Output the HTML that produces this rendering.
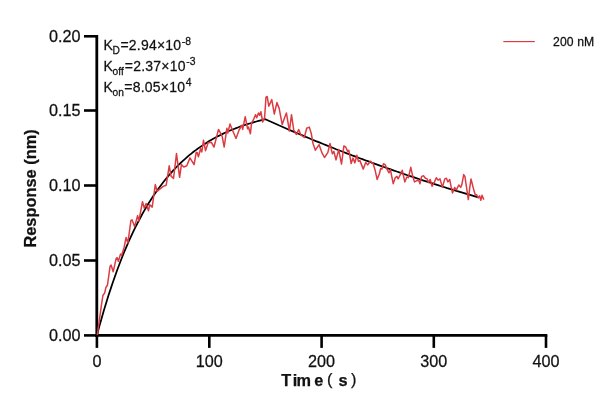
<!DOCTYPE html>
<html><head><meta charset="utf-8"><style>
html,body{margin:0;padding:0;background:#fff;}
svg{display:block;will-change:transform;}
text{font-family:"Liberation Sans",sans-serif;fill:#111;stroke:#111;stroke-width:0.25px}
</style></head><body>
<svg width="616" height="412" viewBox="0 0 616 412">
<rect width="616" height="412" fill="#fff"/>
<g stroke="#000" stroke-width="2.8" fill="none">
<line x1="96.8" y1="35" x2="96.8" y2="336.8"/>
<line x1="95" y1="335.4" x2="547.3" y2="335.4"/>
</g>
<g stroke="#000" stroke-width="2.6" fill="none">
<line x1="84" y1="36.3" x2="97" y2="36.3"/>
<line x1="84" y1="110.5" x2="97" y2="110.5"/>
<line x1="84" y1="185.5" x2="97" y2="185.5"/>
<line x1="84" y1="260.5" x2="97" y2="260.5"/>
<line x1="84" y1="335.4" x2="97" y2="335.4"/>
<line x1="96.9" y1="335" x2="96.9" y2="347.9"/>
<line x1="209.3" y1="335" x2="209.3" y2="347.9"/>
<line x1="321.6" y1="335" x2="321.6" y2="347.9"/>
<line x1="433.8" y1="335" x2="433.8" y2="347.9"/>
<line x1="546.0" y1="335" x2="546.0" y2="347.9"/>
</g>
<polyline points="97.0,335.2 99.2,326.8 101.5,318.8 103.7,311.0 106.0,303.5 108.2,296.3 110.5,289.4 112.7,282.7 115.0,276.2 117.2,270.0 119.5,264.0 121.7,258.3 123.9,252.7 126.2,247.3 128.4,242.2 130.7,237.2 132.9,232.4 135.2,227.7 137.4,223.3 139.7,219.0 141.9,214.8 144.1,210.9 146.4,207.0 148.6,203.3 150.9,199.7 153.1,196.3 155.4,193.0 157.6,189.8 159.9,186.7 162.1,183.7 164.4,180.8 166.6,178.1 168.8,175.4 171.1,172.9 173.3,170.4 175.6,168.0 177.8,165.7 180.1,163.5 182.3,161.4 184.6,159.3 186.8,157.3 189.0,155.4 191.3,153.6 193.5,151.8 195.8,150.1 198.0,148.5 200.3,146.9 202.5,145.4 204.8,143.9 207.0,142.5 209.2,141.1 211.5,139.8 213.7,138.5 216.0,137.3 218.2,136.1 220.5,135.0 222.7,133.9 225.0,132.8 227.2,131.8 229.5,130.8 231.7,129.9 233.9,129.0 236.2,128.1 238.4,127.3 240.7,126.4 242.9,125.6 245.2,124.9 247.4,124.2 249.7,123.5 251.9,122.8 254.2,122.1 256.4,121.5 258.6,120.9 260.9,120.3 263.1,119.7 265.4,119.2 265.4,119.2 268.7,120.7 272.1,122.2 275.5,123.8 278.8,125.3 282.2,126.7 285.6,128.2 288.9,129.7 292.3,131.1 295.7,132.6 299.1,134.0 302.4,135.4 305.8,136.9 309.2,138.3 312.5,139.7 315.9,141.1 319.3,142.4 322.6,143.8 326.0,145.1 329.4,146.5 332.7,147.8 336.1,149.2 339.5,150.5 342.8,151.8 346.2,153.1 349.6,154.4 352.9,155.7 356.3,156.9 359.7,158.2 363.0,159.4 366.4,160.7 369.8,161.9 373.1,163.2 376.5,164.4 379.9,165.6 383.2,166.8 386.6,168.0 390.0,169.2 393.3,170.3 396.7,171.5 400.1,172.7 403.4,173.8 406.8,175.0 410.2,176.1 413.5,177.2 416.9,178.3 420.3,179.5 423.6,180.6 427.0,181.7 430.4,182.7 433.8,183.8 437.1,184.9 440.5,186.0 443.9,187.0 447.2,188.1 450.6,189.1 454.0,190.1 457.3,191.2 460.7,192.2 464.1,193.2 467.4,194.2 470.8,195.2 474.2,196.2 477.5,197.2 478.7,197.5" fill="none" stroke="#000" stroke-width="1.75" stroke-linejoin="round"/>
<polyline points="97.3,335.0 101.5,304.6 102.9,295.5 104.7,292.9 105.9,287.5 107.5,285.0 110.1,266.2 111.1,265.0 113.2,271.7 116.2,258.3 117.2,257.7 118.4,261.4 120.5,254.1 121.7,255.3 124.1,247.4 126.1,237.5 127.9,242.9 130.9,220.5 132.1,219.9 134.6,226.6 137.6,215.6 138.8,221.1 142.5,201.7 144.3,208.3 146.1,203.5 148.5,210.8 149.7,204.7 152.2,207.1 153.6,197.0 155.3,184.6 157.1,191.3 160.1,188.8 163.2,186.4 166.2,185.2 169.2,165.8 171.1,176.1 173.5,178.5 176.5,153.6 179.6,177.3 181.4,164.6 183.8,167.0 186.8,165.8 189.9,157.9 194.1,164.6 196.2,152.5 197.2,152.5 198.4,156.7 200.6,148.8 201.8,151.9 203.5,140.3 205.5,150.7 208.1,142.8 211.2,142.2 214.0,147.0 218.5,129.4 222.1,136.1 224.2,147.0 226.9,128.2 227.8,133.1 230.0,124.0 232.4,130.0 236.0,138.5 239.1,130.0 241.9,125.2 242.7,129.4 245.2,116.7 247.6,128.8 248.4,127.0 250.4,133.7 251.6,122.6 253.0,120.8 255.5,114.7 256.7,117.8 258.5,112.9 259.7,115.3 260.9,111.7 262.7,122.0 264.6,117.8 266.0,97.1 267.2,96.5 268.8,106.2 271.8,99.6 274.3,114.1 276.9,102.6 279.1,108.1 282.2,124.4 284.6,117.8 286.4,112.9 289.4,131.1 291.5,114.7 293.7,129.9 296.3,134.5 298.7,129.6 300.9,135.0 304.3,137.5 306.7,128.3 309.3,127.1 311.2,133.2 313.0,143.5 315.4,150.2 319.1,144.7 322.1,153.2 324.5,157.5 327.8,152.6 330.0,143.5 332.4,153.8 333.9,151.4 336.0,159.9 338.7,149.6 341.5,164.1 343.9,145.9 345.8,147.2 347.6,151.4 348.8,150.2 351.2,163.5 353.0,158.1 354.9,162.9 356.8,155.2 358.4,161.2 359.9,160.6 363.3,169.1 365.7,162.4 367.7,164.9 370.5,161.2 373.2,163.7 375.0,169.7 377.1,179.4 379.3,174.0 380.7,168.5 381.9,169.1 383.5,163.7 385.3,164.9 387.2,169.7 389.0,172.8 390.4,169.7 393.2,183.7 395.3,177.6 396.9,176.4 398.1,178.8 400.1,175.2 402.3,170.3 404.8,181.9 406.9,177.0 408.4,177.6 410.8,167.3 412.6,175.8 414.5,181.9 416.8,180.7 418.7,180.1 419.9,183.8 421.7,176.4 423.5,175.8 425.4,178.3 427.2,178.9 428.4,182.5 430.2,179.5 432.1,186.2 434.5,181.9 436.3,177.7 438.1,180.1 440.0,178.9 442.4,187.4 444.8,178.9 446.4,178.3 447.9,181.9 449.7,179.5 450.9,185.6 452.5,192.9 454.6,187.4 456.4,189.8 458.8,185.0 460.7,187.4 461.9,184.4 463.7,174.6 464.9,176.4 466.8,189.2 468.3,199.6 469.8,187.4 471.0,178.9 472.2,183.8 474.1,191.1 475.3,194.7 476.5,194.7 478.3,197.8 479.6,195.9 480.8,200.2 482.0,195.3 483.8,199.6" fill="none" stroke="#dd3b41" stroke-width="1.5" stroke-linejoin="round"/>
<text transform="translate(80.6,41.5) scale(1.0,1.05)" font-size="16.2" text-anchor="end">0.20</text>
<text transform="translate(80.6,116) scale(1.0,1.05)" font-size="16.2" text-anchor="end">0.15</text>
<text transform="translate(80.6,191) scale(1.0,1.05)" font-size="16.2" text-anchor="end">0.10</text>
<text transform="translate(80.6,266) scale(1.0,1.05)" font-size="16.2" text-anchor="end">0.05</text>
<text transform="translate(80.6,341) scale(1.0,1.05)" font-size="16.2" text-anchor="end">0.00</text>
<text transform="translate(97,366.8) scale(1.0,1.05)" font-size="16.2" text-anchor="middle">0</text>
<text transform="translate(209.3,366.8) scale(1.0,1.05)" font-size="16.2" text-anchor="middle">100</text>
<text transform="translate(321.5,366.8) scale(1.0,1.05)" font-size="16.2" text-anchor="middle">200</text>
<text transform="translate(433.8,366.8) scale(1.0,1.05)" font-size="16.2" text-anchor="middle">300</text>
<text transform="translate(546,366.8) scale(1.0,1.05)" font-size="16.2" text-anchor="middle">400</text>
<text transform="translate(281.2,385.9) scale(1.0,1.0)" font-size="16.3" font-weight="bold">T</text>
<text transform="translate(292.7,385.9) scale(1.0,1.0)" font-size="16.3" font-weight="bold">i</text>
<text transform="translate(296.4,385.9) scale(1.0,1.0)" font-size="16.3" font-weight="bold">m</text>
<text transform="translate(314.3,385.9) scale(1.0,1.0)" font-size="16.3" font-weight="bold">e</text>
<text transform="translate(326.9,385.29999999999995) scale(1.0,1.0)" font-size="16.3">(</text>
<text transform="translate(338.6,385.9) scale(1.0,1.0)" font-size="16.3" font-weight="bold">s</text>
<text transform="translate(351.1,385.29999999999995) scale(1.0,1.0)" font-size="16.3">)</text>
<text transform="translate(36.4,247.6) rotate(-90) scale(1.0,1.03)" font-size="16.3" font-weight="bold" letter-spacing="0.06">Response (nm)</text>
<text transform="translate(103.4,50.2) scale(1.0,1.05)" font-size="14.0">K</text>
<text transform="translate(112.6,53.800000000000004) scale(1.0,1.15)" font-size="10.2">D</text>
<text transform="translate(120.4,50.2) scale(1.0,1.05)" font-size="14.0" letter-spacing="0.22">=2.94×10</text>
<text transform="translate(181.70000000000002,44.5) scale(1.0,1.1)" font-size="10.4">-8</text>
<text transform="translate(103.4,71.1) scale(1.0,1.05)" font-size="14.0">K</text>
<text transform="translate(112.6,74.69999999999999) scale(1.0,1.15)" font-size="10.2">off</text>
<text transform="translate(124.8,71.1) scale(1.0,1.05)" font-size="14.0" letter-spacing="0.22">=2.37×10</text>
<text transform="translate(186.20000000000002,65.39999999999999) scale(1.0,1.1)" font-size="10.4">-3</text>
<text transform="translate(103.4,92.0) scale(1.0,1.05)" font-size="14.0">K</text>
<text transform="translate(112.6,95.6) scale(1.0,1.15)" font-size="10.2">on</text>
<text transform="translate(124.3,92.0) scale(1.0,1.05)" font-size="14.0" letter-spacing="0.22">=8.05×10</text>
<text transform="translate(185.8,86.3) scale(1.0,1.1)" font-size="10.4">4</text>

<line x1="503.3" y1="41.6" x2="534.8" y2="41.6" stroke="#dd3b41" stroke-width="1.15"/>
<text transform="translate(553,46) scale(1.0,1.05)" font-size="12.2" letter-spacing="0.1">200 nM</text>

</svg>
</body></html>
